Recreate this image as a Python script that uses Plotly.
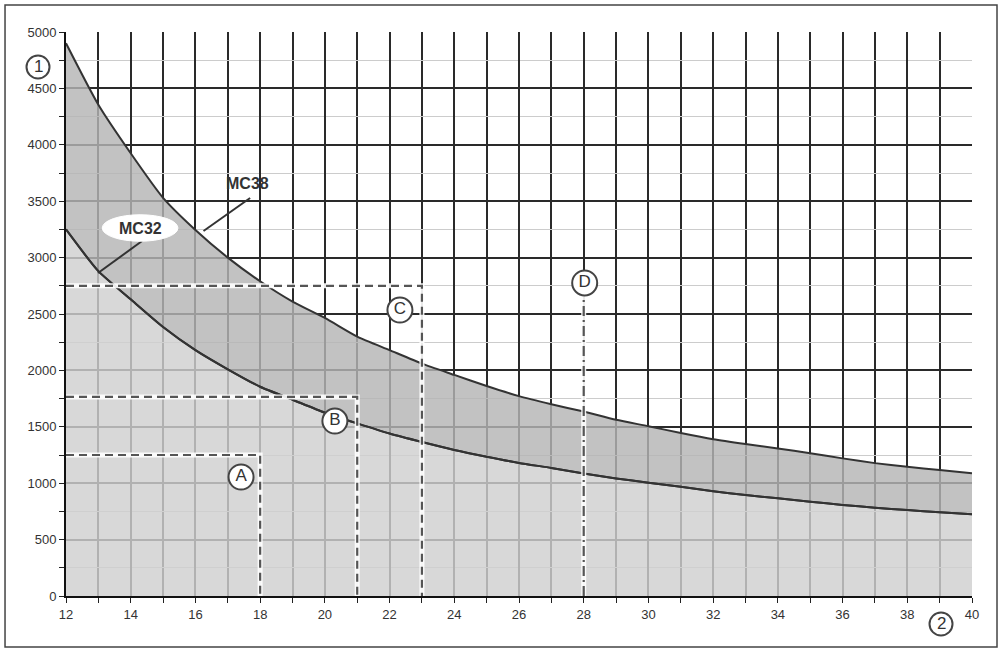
import plotly.graph_objects as go

# ---- data ----
x_vals = [12, 13, 14, 15, 16, 17, 18, 19, 20, 21, 22, 23, 24, 25, 26, 27, 28, 29, 30,
          31, 32, 33, 34, 35, 36, 37, 38, 39, 40]
mc38 = [4900, 4355, 3925, 3530, 3245, 3000, 2790, 2610, 2465, 2300, 2180, 2060, 1960, 1862,
        1772, 1700, 1635, 1562, 1505, 1445, 1390, 1347, 1308, 1265, 1220, 1178, 1145, 1117, 1088]
mc32 = [3250, 2880, 2630, 2385, 2180, 2010, 1855, 1740, 1625, 1530, 1440, 1365, 1295, 1235,
        1180, 1135, 1085, 1042, 1005, 968, 928, 895, 866, 836, 807, 783, 762, 742, 724]

ref_names = ["A", "B", "C"]
ref_x = [18, 21, 23]
ref_y = [1250, 1765, 2750]
d_x = 28
d_top = 2670

x_tick_vals = list(range(12, 41, 2))
y_tick_vals = list(range(0, 5001, 500))

FONT = "Liberation Sans, Arial, sans-serif"
DARK = "#333333"

fig = go.Figure()

# fills
fig.add_trace(go.Scatter(x=x_vals, y=mc32, mode="lines", fill="tozeroy",
                         fillcolor="rgba(207,207,207,0.82)",
                         line=dict(color=DARK, width=2, shape="spline", smoothing=0.6),
                         hoverinfo="skip", showlegend=False))
fig.add_trace(go.Scatter(x=x_vals, y=mc38, mode="lines", fill="tonexty",
                         fillcolor="rgba(180,180,180,0.82)",
                         line=dict(color=DARK, width=2, shape="spline", smoothing=0.6),
                         hoverinfo="skip", showlegend=False))
# redraw MC32 line on top of the upper fill
fig.add_trace(go.Scatter(x=x_vals, y=mc32, mode="lines",
                         line=dict(color=DARK, width=2, shape="spline", smoothing=0.6),
                         hoverinfo="skip", showlegend=False))

# reference dashed lines A, B, C
for nm, rx, ry in zip(ref_names, ref_x, ref_y):
    xs = [12, rx, rx]
    ys = [ry, ry, 0]
    fig.add_trace(go.Scatter(x=xs, y=ys, mode="lines",
                             line=dict(color="rgba(255,255,255,0.9)", width=5),
                             hoverinfo="skip", showlegend=False))
    fig.add_trace(go.Scatter(x=xs, y=ys, mode="lines",
                             line=dict(color="#555555", width=2.2, dash="8px,5px"),
                             hoverinfo="skip", showlegend=False))
# D line
fig.add_trace(go.Scatter(x=[d_x, d_x], y=[0, d_top], mode="lines",
                         line=dict(color="rgba(255,255,255,0.9)", width=5),
                         hoverinfo="skip", showlegend=False))
fig.add_trace(go.Scatter(x=[d_x, d_x], y=[0, d_top], mode="lines",
                         line=dict(color="#555555", width=2.2, dash="10px,4px,2px,4px"),
                         hoverinfo="skip", showlegend=False))

# leader lines for labels
fig.add_trace(go.Scatter(x=[12.99, 14.35], y=[2863, 3147], mode="lines",
                         line=dict(color=DARK, width=2), hoverinfo="skip", showlegend=False))
fig.add_trace(go.Scatter(x=[16.25, 17.69], y=[3236, 3528], mode="lines",
                         line=dict(color=DARK, width=2), hoverinfo="skip", showlegend=False))

# circled markers inside the plot
circ_lbl = ["A", "B", "C", "D"]
circ_x = [17.41, 20.31, 22.32, 28.03]
circ_y = [1055, 1551, 2535, 2775]
fig.add_trace(go.Scatter(x=circ_x, y=circ_y, mode="markers+text", text=circ_lbl,
                         textposition="middle center",
                         textfont=dict(family=FONT, size=17, color=DARK),
                         marker=dict(size=25, color="white", line=dict(color="#444444", width=2)),
                         hoverinfo="skip", showlegend=False))

# axis badges (outside plot area, paper coords)
badge_lbl = ["1", "2"]
badge_px = [-0.0309, 0.9658]
badge_py = [0.938, -0.0496]

shapes = [
    # MC32 ellipse
    dict(type="circle", xref="x", yref="y", x0=13.12, x1=15.46, y0=3145, y1=3380,
         fillcolor="white", line=dict(color="white", width=1), layer="above"),
    # outer frame
    dict(type="rect", xref="paper", yref="paper", x0=-0.0673, x1=1.0276, y0=-0.0904, y1=1.0479,
         line=dict(color="#444444", width=1.5), fillcolor="rgba(0,0,0,0)"),
]
for bx, by in zip(badge_px, badge_py):
    shapes.append(dict(type="circle", xref="paper", yref="paper", xsizemode="pixel",
                       ysizemode="pixel", xanchor=bx, yanchor=by, x0=-11.5, x1=11.5,
                       y0=-11.5, y1=11.5, fillcolor="white",
                       line=dict(color="#444444", width=2), layer="above"))

annotations = [
    dict(x=14.29, y=3262, xref="x", yref="y", text="<b>MC32</b>", showarrow=False,
         font=dict(family=FONT, size=16, color=DARK)),
    dict(x=17.62, y=3655, xref="x", yref="y", text="<b>MC38</b>", showarrow=False,
         font=dict(family=FONT, size=16, color=DARK)),
]
for lbl, bx, by in zip(badge_lbl, badge_px, badge_py):
    annotations.append(dict(x=bx, y=by, xref="paper", yref="paper", text=lbl,
                            showarrow=False, xanchor="center", yanchor="middle",
                            font=dict(family=FONT, size=17, color=DARK)))

fig.update_layout(
    width=1003, height=651,
    margin=dict(l=66, r=31, t=32, b=55, autoexpand=False),
    paper_bgcolor="white", plot_bgcolor="white",
    shapes=shapes, annotations=annotations,
    font=dict(family=FONT, size=13, color=DARK),
    xaxis=dict(range=[12, 40], tickvals=x_tick_vals, ticks="outside", ticklen=5,
               tickcolor="#222", showline=True, linecolor="#111", linewidth=2,
               showgrid=True, gridcolor="#2a2a2a", gridwidth=1.5, zeroline=False,
               minor=dict(dtick=1, tick0=12, ticks="outside", ticklen=5, tickcolor="#222",
                          showgrid=True, gridcolor="#2a2a2a", gridwidth=1.5),
               tickfont=dict(family=FONT, size=13, color=DARK), fixedrange=True),
    yaxis=dict(range=[0, 5000], tickvals=y_tick_vals, ticks="outside", ticklen=5,
               tickcolor="#222", showline=True, linecolor="#111", linewidth=2,
               showgrid=True, gridcolor="#2a2a2a", gridwidth=1.5, zeroline=False,
               minor=dict(dtick=250, tick0=0, ticks="outside", ticklen=5, tickcolor="#222",
                          showgrid=True, gridcolor="#cccccc", gridwidth=1.2),
               tickfont=dict(family=FONT, size=13, color=DARK), fixedrange=True),
)

fig.write_html("out.html", config={"displayModeBar": False},
               post_script="document.body.style.margin='0';")
